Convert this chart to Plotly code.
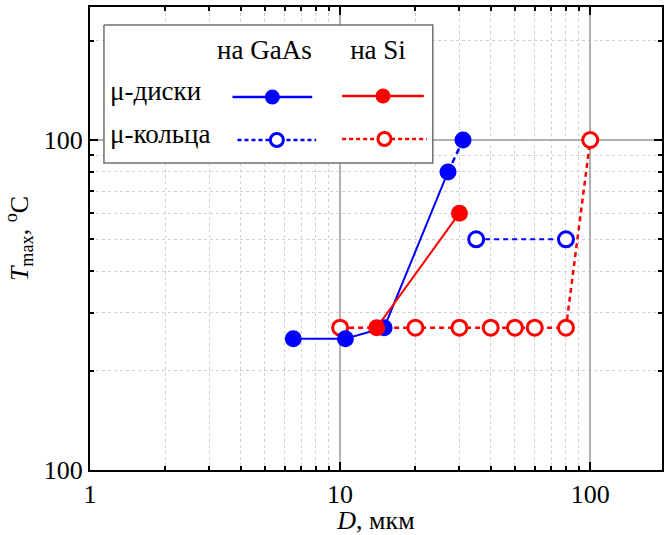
import plotly.graph_objects as go

# Micro-disks (filled markers, solid lines)
disk_gaas_d = [6.5, 10.5, 15, 27]
disk_gaas_t = [25, 25, 27, 80]
disk_gaas_tail_d = [27, 31]
disk_gaas_tail_t = [80, 100]
disk_si_d = [14, 30]
disk_si_t = [27, 60]

# Micro-rings (open markers, dotted lines)
ring_gaas_d = [35, 80]
ring_gaas_t = [50, 50]
ring_si_d = [10, 20, 30, 40, 50, 60, 80, 100]
ring_si_t = [27, 27, 27, 27, 27, 27, 27, 100]

x_tickvals = [1, 10, 100]
x_ticktext = ["1", "10", "100"]
y_tickvals = [10, 100]
y_ticktext = ["100", "100"]

col_headers = ["на GaAs", "на Si"]
row_labels = ["μ-диски", "μ-кольца"]

BLUE = "#0000ff"
RED = "#ff0000"
FONT = "Times New Roman, Liberation Serif, DejaVu Serif, serif"

W, H = 664, 535
ML, MR, MT, MB = 90, 0, 7, 65
PW, PH = W - ML - MR, H - MT - MB

fig = go.Figure()

fig.add_trace(go.Scatter(x=disk_gaas_tail_d, y=disk_gaas_tail_t, mode="lines",
                         line=dict(color=BLUE, width=2.5, dash="6px,4px"), showlegend=False))
fig.add_trace(go.Scatter(x=ring_gaas_d, y=ring_gaas_t, mode="lines+markers",
                         line=dict(color=BLUE, width=2, dash="5px,4px"),
                         marker=dict(symbol="circle", size=15, color="white",
                                     line=dict(width=3, color=BLUE)),
                         showlegend=False))
fig.add_trace(go.Scatter(x=ring_si_d, y=ring_si_t, mode="lines+markers",
                         line=dict(color=RED, width=2.5, dash="5px,4px"),
                         marker=dict(symbol="circle", size=15, color="white",
                                     line=dict(width=3, color=RED)),
                         showlegend=False))
fig.add_trace(go.Scatter(x=disk_gaas_d, y=disk_gaas_t, mode="lines+markers",
                         line=dict(color=BLUE, width=2),
                         marker=dict(symbol="circle", size=17, color=BLUE),
                         showlegend=False))
fig.add_trace(go.Scatter(x=disk_gaas_tail_d[1:], y=disk_gaas_tail_t[1:], mode="markers",
                         marker=dict(symbol="circle", size=17, color=BLUE),
                         showlegend=False))
fig.add_trace(go.Scatter(x=disk_si_d, y=disk_si_t, mode="lines+markers",
                         line=dict(color=RED, width=2),
                         marker=dict(symbol="circle", size=17, color=RED),
                         showlegend=False))

# Legend panel on an overlay pixel-coordinate subplot, drawn above the data layer
def leg(**kw):
    fig.add_trace(go.Scatter(xaxis="x2", yaxis="y2", showlegend=False, hoverinfo="skip", **kw))


leg(x=[104, 434, 434, 104, 104], y=[25, 25, 163, 163, 25], mode="lines", fill="toself",
    fillcolor="white", line=dict(color="#707070", width=1.5))
for x0, x1, y, color, dash, filled in [(233, 313, 97, BLUE, "solid", True),
                                       (343, 425, 96, RED, "solid", True),
                                       (238, 317, 140, BLUE, "4px,3px", False),
                                       (343, 428, 139, RED, "4px,3px", False)]:
    leg(x=[x0, x1], y=[y, y], mode="lines", line=dict(color=color, width=2.5, dash=dash))
    leg(x=[(x0 + x1) / 2], y=[y], mode="markers",
        marker=dict(symbol="circle", size=15 if filled else 13,
                    color=color if filled else "white",
                    line=dict(width=0 if filled else 3, color=color)))
leg(x=[265, 379], y=[52, 52], mode="text", text=col_headers, textposition="middle center",
    textfont=dict(family=FONT, size=27, color="black"))
leg(x=[110, 110], y=[93, 136], mode="text", text=row_labels, textposition="middle right",
    textfont=dict(family=FONT, size=27, color="black"))

minor_x = [m * 10 ** e for e in range(0, 3) for m in range(2, 10)]
minor_y = [m * 10 ** e for e in range(1, 3) for m in range(2, 10)]

axis_common = dict(
    type="log", showline=True, linecolor="black", linewidth=2, mirror="allticks",
    ticks="inside", ticklen=8, tickwidth=2, tickcolor="black",
    showgrid=True, gridcolor="#b0b0b0", gridwidth=1.5, zeroline=False,
    tickfont=dict(family=FONT, size=26, color="black"),
)

fig.update_layout(
    xaxis=dict(
        **axis_common, range=[0, 2.287], tickmode="array", tickvals=x_tickvals, ticktext=x_ticktext,
        minor=dict(tickmode="array", tickvals=minor_x, ticks="inside", ticklen=4, tickwidth=1.5,
                   tickcolor="black", showgrid=True, gridcolor="#d0d0d0", gridwidth=1, griddash="dot"),
        title=dict(text="<i>D</i>, мкм", font=dict(family=FONT, size=26, color="black"), standoff=2),
    ),
    yaxis=dict(
        **axis_common, range=[1, 1 + PH / 330], tickmode="array", tickvals=y_tickvals, ticktext=y_ticktext,
        minor=dict(tickmode="array", tickvals=minor_y, ticks="inside", ticklen=4, tickwidth=1.5,
                   tickcolor="black", showgrid=True, gridcolor="#d0d0d0", gridwidth=1, griddash="dot"),
        title=dict(text="<i>T</i><sub>max</sub>, <sup>o</sup>C",
                   font=dict(family=FONT, size=26, color="black"), standoff=8),
    ),
    xaxis2=dict(overlaying="x", range=[ML, W - MR], visible=False, fixedrange=True),
    yaxis2=dict(overlaying="y", range=[H - MB, MT], visible=False, fixedrange=True),
    width=W, height=H, margin=dict(l=ML, r=MR, t=MT, b=MB),
    paper_bgcolor="white", plot_bgcolor="white",
    font=dict(family=FONT, color="black"),
    showlegend=False,
)

fig.write_html("out.html")
